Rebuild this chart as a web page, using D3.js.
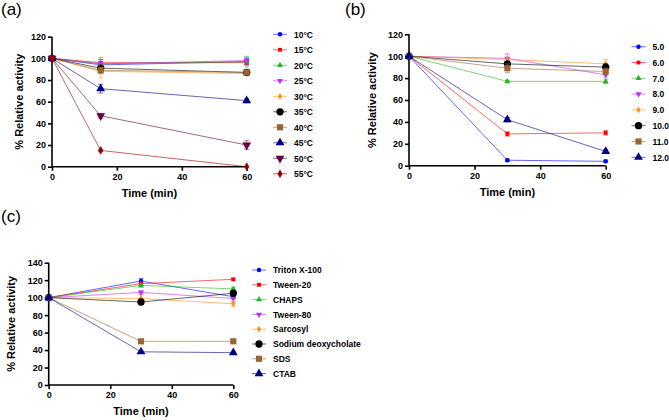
<!DOCTYPE html>
<html lang="en">
<head>
<meta charset="UTF-8">
<title>Relative activity</title>
<script src="https://cdn.jsdelivr.net/npm/d3@7/dist/d3.min.js"></script>
<style>
    body { margin: 0; background: #fff; }
    svg text { font-family: "Liberation Sans", Arial, sans-serif; }
</style>
</head>
<body>
<svg id="chart" width="669" height="420"></svg>
<script>
    // panel (a) - temperature
    var timeA = [0, 15, 60];
    var namesA = ["10°C", "15°C", "20°C", "25°C", "30°C", "35°C", "40°C", "45°C", "50°C", "55°C"];
    var valuesA = [
        [100, 94, 97], [100, 96, 96], [100, 95, 97], [100, 95, 98], [100, 88, 86],
        [100, 91, 87], [100, 89, 87], [100, 72, 61], [100, 47, 20], [100, 15, 0]
    ];
    var errorsA = [
        [0, 3, 3], [0, 3, 2], [0, 6, 5], [0, 4, 3], [0, 6, 2],
        [0, 2, 2], [0, 3, 2], [0, 4, 2], [0, 2, 4], [0, 1, 0]
    ];
    var colorsA = ["#0000ff", "#ff0000", "#22bb22", "#bb33ee", "#ff8c1a",
                   "#000000", "#996633", "#000080", "#660040", "#990000"];
    var shapesA = ["circle", "square", "triangle", "down", "diamond",
                   "circle", "square", "triangle", "down", "diamond"];
    var bigA = [0, 0, 0, 0, 0, 1, 1, 1, 1, 1];
    var yTicksA = [0, 20, 40, 60, 80, 100, 120];

    // panel (b) - pH
    var timeB = [0, 30, 60];
    var namesB = ["5.0", "6.0", "7.0", "8.0", "9.0", "10.0", "11.0", "12.0"];
    var valuesB = [
        [100, 5, 4], [100, 29, 30], [100, 77, 77], [100, 98, 83],
        [100, 97, 93], [100, 93, 90], [100, 89, 86], [100, 42, 13]
    ];
    var errorsB = [
        [0, 1, 1], [0, 2, 2], [0, 1, 2], [0, 4, 2],
        [0, 2, 4], [0, 2, 3], [0, 4, 3], [0, 2, 2]
    ];
    var colorsB = ["#0000ff", "#ff0000", "#22bb22", "#bb33ee",
                   "#ff8c1a", "#000000", "#996633", "#000080"];
    var shapesB = ["circle", "square", "triangle", "down", "diamond", "circle", "square", "triangle"];
    var bigB = [0, 0, 0, 0, 0, 1, 1, 1];
    var yTicksB = [0, 20, 40, 60, 80, 100, 120];

    // panel (c) - detergents
    var timeC = [0, 30, 60];
    var namesC = ["Triton X-100", "Tween-20", "CHAPS", "Tween-80", "Sarcosyl",
                  "Sodium deoxycholate", "SDS", "CTAB"];
    var valuesC = [
        [100, 119, 101], [100, 116, 121], [100, 114, 110], [100, 106, 99],
        [100, 99, 93], [100, 95, 105], [100, 50, 50], [100, 38, 37]
    ];
    var errorsC = [
        [0, 3, 2], [0, 2, 1], [0, 2, 2], [0, 2, 4],
        [0, 4, 3], [0, 2, 2], [0, 1, 1], [0, 1, 1]
    ];
    var colorsC = ["#0000ff", "#ff0000", "#22bb22", "#bb33ee",
                   "#ff8c1a", "#000000", "#996633", "#000080"];
    var shapesC = ["circle", "square", "triangle", "down", "diamond", "circle", "square", "triangle"];
    var bigC = [0, 0, 0, 0, 0, 1, 1, 1];
    var yTicksC = [0, 20, 40, 60, 80, 100, 120, 140];

    var xTicks = [0, 20, 40, 60];

    var svg = d3.select("#chart");

    // marker areas, small and big
    var sizes = {
        circle: [16, 42], square: [15, 38], triangle: [16, 34], down: [16, 34], diamond: [13, 22]
    };

    function symbolPath(shape, big) {
        var type = {circle: d3.symbolCircle, square: d3.symbolSquare, triangle: d3.symbolTriangle,
                    down: d3.symbolTriangle, diamond: d3.symbolDiamond}[shape];
        return d3.symbol().type(type).size(sizes[shape][big ? 1 : 0])();
    }

    function addMarker(g, shape, big, color, x, y) {
        g.append("path")
            .attr("d", symbolPath(shape, big))
            .attr("transform", "translate(" + x + "," + y + ")" + (shape == "down" ? " rotate(180)" : ""))
            .attr("fill", color);
    }

    function drawPanel(p) {
        var g = svg.append("g");
        var x = d3.scaleLinear().domain([0, 60]).range([p.left, p.right]);
        var y = d3.scaleLinear().domain([0, p.yMax]).range([p.bottom, p.top]);

        g.append("text").attr("x", p.labelX).attr("y", p.labelY)
            .attr("font-size", "17px").text(p.label);

        var yAxis = g.append("g").attr("transform", "translate(" + p.left + ",0)")
            .call(d3.axisLeft(y).tickValues(p.yTicks).tickSize(4).tickPadding(2));
        var xAxis = g.append("g").attr("transform", "translate(0," + p.bottom + ")")
            .call(d3.axisBottom(x).tickValues(xTicks).tickSize(4).tickPadding(3));
        [xAxis, yAxis].forEach(function (a) {
            a.selectAll("path, line").attr("stroke", "#000").attr("stroke-width", 1.6);
            a.select(".domain").attr("d", a === xAxis
                ? "M" + p.left + ",0H" + p.right
                : "M0," + p.bottom + "V" + p.top);
            a.selectAll("text").attr("font-size", "9px").attr("font-weight", "bold")
                .attr("fill", "#000").attr("font-family", "Liberation Sans, Arial, sans-serif");
        });

        g.append("text").attr("x", (p.left + p.right) / 2).attr("y", p.bottom + 30)
            .attr("text-anchor", "middle").attr("font-size", "11px").attr("font-weight", "bold")
            .text("Time (min)");
        g.append("text")
            .attr("transform", "translate(" + p.yTitleX + "," + (p.top + p.bottom) / 2 + ") rotate(-90)")
            .attr("text-anchor", "middle").attr("font-size", "11px").attr("font-weight", "bold")
            .text("% Relative activity");

        var line = d3.line().x(function (d) { return x(d[0]); }).y(function (d) { return y(d[1]); });

        p.values.forEach(function (vals, i) {
            var pts = vals.map(function (v, j) { return [p.time[j], v]; });
            g.append("path").attr("d", line(pts)).attr("fill", "none")
                .attr("stroke", p.colors[i]).attr("stroke-opacity", 0.6).attr("stroke-width", 1);
        });
        p.values.forEach(function (vals, i) {
            vals.forEach(function (v, j) {
                var e = p.errors[i][j];
                if (e > 0) {
                    var cx = x(p.time[j]);
                    g.append("path")
                        .attr("d", "M" + cx + "," + y(v - e) + "V" + y(v + e) +
                            "M" + (cx - 2.5) + "," + y(v + e) + "H" + (cx + 2.5) +
                            "M" + (cx - 2.5) + "," + y(v - e) + "H" + (cx + 2.5))
                        .attr("stroke", p.colors[i]).attr("stroke-opacity", 0.55)
                        .attr("stroke-width", 1).attr("fill", "none");
                }
                addMarker(g, p.shapes[i], p.big[i], p.colors[i], x(p.time[j]), y(v));
            });
        });

        // legend
        p.names.forEach(function (name, i) {
            var ly = p.legTop + i * p.legStep;
            g.append("line").attr("x1", p.legX).attr("x2", p.legX + 14)
                .attr("y1", ly).attr("y2", ly)
                .attr("stroke", p.colors[i]).attr("stroke-opacity", 0.6).attr("stroke-width", 1);
            addMarker(g, p.shapes[i], p.big[i], p.colors[i], p.legX + 7, ly);
            g.append("text").attr("x", p.legX + 21).attr("y", ly + 3.2)
                .attr("font-size", "8.5px").attr("font-weight", "bold").text(name);
        });
    }

    drawPanel({label: "(a)", labelX: 1, labelY: 15, left: 52, right: 246.7, top: 36.7, bottom: 166.7,
        yMax: 120, yTicks: yTicksA, yTitleX: 23, time: timeA, names: namesA, values: valuesA,
        errors: errorsA, colors: colorsA, shapes: shapesA, big: bigA,
        legX: 273, legTop: 34.3, legStep: 15.5});

    drawPanel({label: "(b)", labelX: 345, labelY: 15, left: 409, right: 605.7, top: 34.3, bottom: 165.7,
        yMax: 120, yTicks: yTicksB, yTitleX: 376, time: timeB, names: namesB, values: valuesB,
        errors: errorsB, colors: colorsB, shapes: shapesB, big: bigB,
        legX: 631.5, legTop: 46.7, legStep: 15.8});

    drawPanel({label: "(c)", labelX: 1, labelY: 222, left: 48.7, right: 233.3, top: 262.7, bottom: 385,
        yMax: 140, yTicks: yTicksC, yTitleX: 15, time: timeC, names: namesC, values: valuesC,
        errors: errorsC, colors: colorsC, shapes: shapesC, big: bigC,
        legX: 252, legTop: 270, legStep: 14.8});
</script>
</body>
</html>
